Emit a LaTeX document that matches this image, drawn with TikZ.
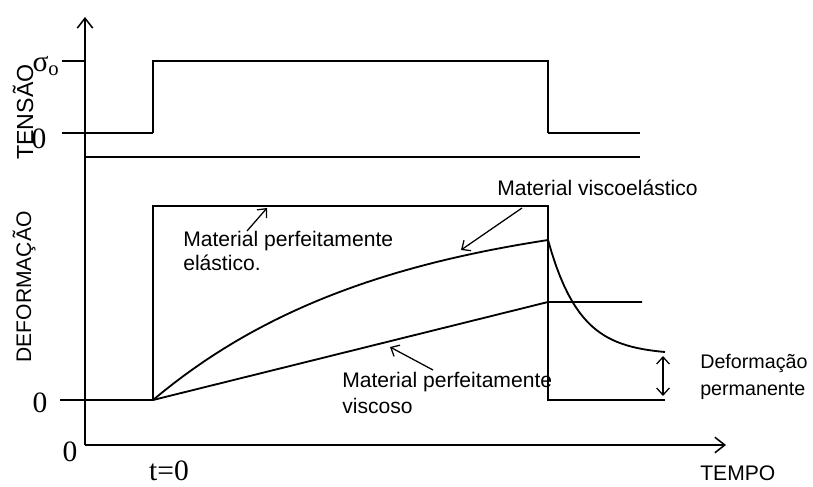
\documentclass[tikz,border=0pt]{standalone}
\usepackage{fontspec}
\setmainfont{Liberation Serif}
\setsansfont{Liberation Sans}
\usetikzlibrary{arrows.meta}
\begin{document}
\begin{tikzpicture}[x=0.025cm, y=-0.025cm,
        axis/.style={line width=1.1pt, -{Straight Barb[length=7pt, width=11pt]}},
        stepline/.style={line width=2.1pt},
        thinline/.style={line width=1.2pt},
        curve/.style={line width=1.3pt},
        label/.style={font=\sffamily\fontsize{15}{19}\selectfont, align=left, inner sep=0pt},
        num/.style={font=\fontsize{21}{22}\selectfont, inner sep=0pt},
        pointer/.style={line width=0.9pt, -{Straight Barb[length=5pt, width=9pt]}},
        gap/.style={line width=0.9pt, {Straight Barb[length=5pt, width=9pt]}-{Straight Barb[length=5pt, width=9pt]}}
    ]
        \useasboundingbox (0,0) rectangle (813,486);

        % Axes
        \coordinate (origin) at (85,445);
        \coordinate (ytop) at (85,17);
        \coordinate (xend) at (726,445);
        \draw[axis] (origin) -- (ytop);
        \draw[axis] (origin) -- (xend);
        \node[num] (zeroorig) at (70,452) {0};
        \node[num] (tzero) at (169,471) {t=0};
        \node[label, anchor=west] (tempo) at (700,473) {TEMPO};

        % Tension
        \node[label, rotate=90, font=\sffamily\fontsize{16.5}{19}\selectfont] (tensao) at (23,112) {TENSÃO};
        \node[num] (sigma) at (46,66) {σ\textsubscript{o}};
        \node[num] (zerotop) at (39,139) {0};
        \draw[thinline] (62,61) -- (85,61);
        \draw[thinline] (62,133) -- (153,133);
        \draw[stepline] (153,133) -- (153,61) -- (548,61) -- (548,133);
        \draw[thinline] (548,133) -- (640,133);
        \draw[thinline] (85,157) -- (640,157);

        % Deformation
        \node[label, rotate=90] (deform) at (24,287) {DEFORMAÇÃO};
        \node[num] (zeromid) at (40,403) {0};
        \draw[stepline] (60,400) -- (85,400);
        \draw[thinline] (85,400) -- (153,400);
        \draw[stepline] (153,400) -- (153,206) -- (548,206) -- (548,400) -- (665,400);
        \draw[curve] plot[domain=0:1, samples=40] ({153+395*\x},{400-160*(1-exp(-1.7*\x))/(1-exp(-1.7))});
        \draw[curve] plot[domain=0:1, samples=30] ({548+117*\x},{240+112*(1-exp(-3.7*\x))/(1-exp(-3.7))});
        \draw[curve] (153,400) -- (548,302) -- (642,302);
        \draw[gap] (663,356) -- (663,396);

        % Labels
        \node[label, anchor=west, font=\sffamily\fontsize{15}{16.5}\selectfont] (elastic) at (183,251) {Material perfeitamente\\elástico.};
        \node[label, anchor=west] (viscoel) at (497,188) {Material viscoelástico};
        \node[label, anchor=west] (viscous) at (342,393) {Material perfeitamente\\viscoso};
        \node[label, anchor=west, font=\sffamily\fontsize{14}{19}\selectfont] (perm) at (700,377) {Deformação\\permanente};

        % Pointers
        \coordinate (el-from) at (247,231);
        \coordinate (el-to) at (267,208);
        \coordinate (ve-from) at (522,208);
        \coordinate (ve-to) at (461,250);
        \coordinate (vi-from) at (433,370);
        \coordinate (vi-to) at (390,347);
        \draw[pointer] (el-from) -- (el-to);
        \draw[pointer] (ve-from) -- (ve-to);
        \draw[pointer] (vi-from) -- (vi-to);
    \end{tikzpicture}
\end{document}
